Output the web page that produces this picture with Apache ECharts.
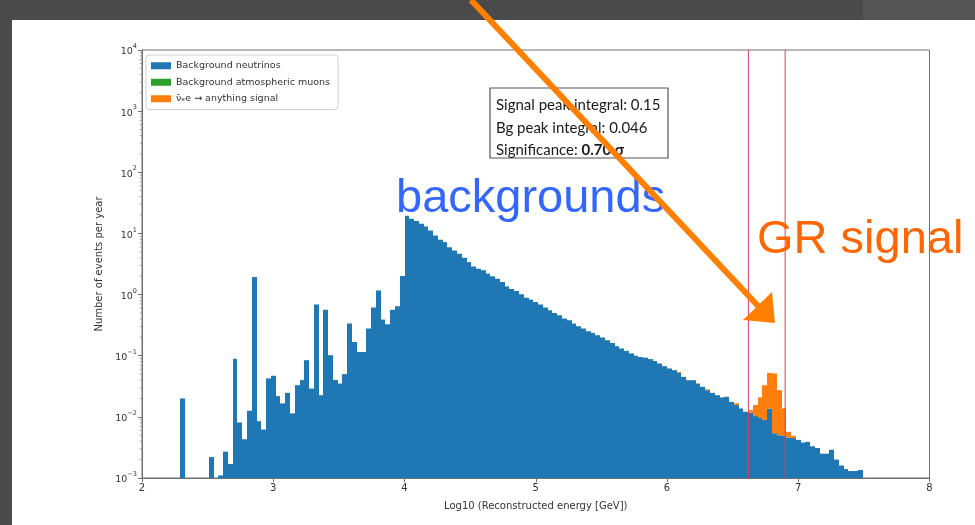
<!DOCTYPE html>
<html>
<head>
<meta charset="utf-8">
<title>Reconstructed energy spectrum</title>
<script src="https://cdn.jsdelivr.net/npm/echarts@6/dist/echarts.min.js"></script>
<style>
  html, body { margin: 0; padding: 0; background: #4a4a4a; }
  #chart { width: 975px; height: 525px; }
</style>
</head>
<body>
<div id="chart"></div>
<script>
// Histogram binning in log10(E / GeV)
const X_MIN = 2, X_MAX = 8, BIN_COUNT = 165;
const Y_MIN = 1e-3, Y_MAX = 1e4;

// Events per year in each bin, starting at X_MIN (bins past the last entry are empty)
const neutrinoCounts = [
  0, 0, 0, 0, 0, 0, 0, 0, 0.020, 0,
  0, 0, 0, 0, 0.0022, 0, 0.0011, 0.0027, 0.0017, 0.089,
  0.0081, 0.0043, 0.0126, 1.94, 0.0085, 0.0062, 0.0425, 0.047, 0.0218, 0.0166,
  0.0247, 0.0114, 0.033, 0.040, 0.0845, 0.029, 0.69, 0.0226, 0.567, 0.102,
  0.040, 0.035, 0.050, 0.336, 0.168, 0.115, 0.115, 0.278, 0.612, 1.17,
  0.39, 0.327, 0.567, 0.643, 2.01, 19.5, 17.4, 15.9, 14.4, 13.0,
  11.2, 9.27, 7.89, 7.21, 5.97, 5.28, 4.66, 4.01, 3.40, 2.89,
  2.65, 2.49, 2.20, 1.99, 1.82, 1.60, 1.36, 1.23, 1.14, 1.01,
  0.891, 0.828, 0.755, 0.686, 0.612, 0.553, 0.500, 0.458, 0.405, 0.380,
  0.336, 0.303, 0.278, 0.251, 0.236, 0.216, 0.198, 0.179, 0.162, 0.143,
  0.131, 0.120, 0.109, 0.100, 0.095, 0.093, 0.088, 0.082, 0.0746, 0.0674,
  0.0618, 0.058, 0.0524, 0.0451, 0.0398, 0.0398, 0.0351, 0.031, 0.0273, 0.0247,
  0.0226, 0.0208, 0.0213, 0.0176, 0.0156, 0.0137, 0.0121, 0.0117, 0.0103, 0.0098,
  0.0089, 0.0137, 0.0054, 0.0050, 0.0049, 0.0046, 0.0045, 0.0042, 0.0038, 0.0039,
  0.0033, 0.0031, 0.0025, 0.0025, 0.0029, 0.0020, 0.0016, 0.0014, 0.0013, 0.0013,
  0.00135
];
// Atmospheric muons: nothing above the plotted floor
const muonCounts = [];
// Signal, stacked on top of the backgrounds (same bin indexing)
const signalCounts = [
  0, 0, 0, 0, 0, 0, 0, 0, 0, 0, 0, 0, 0, 0, 0, 0, 0, 0, 0, 0,
  0, 0, 0, 0, 0, 0, 0, 0, 0, 0, 0, 0, 0, 0, 0, 0, 0, 0, 0, 0,
  0, 0, 0, 0, 0, 0, 0, 0, 0, 0, 0, 0, 0, 0, 0, 0, 0, 0, 0, 0,
  0, 0, 0, 0, 0, 0, 0, 0, 0, 0, 0, 0, 0, 0, 0, 0, 0, 0, 0, 0,
  0, 0, 0, 0, 0, 0, 0, 0, 0, 0, 0, 0, 0, 0, 0, 0, 0, 0, 0, 0,
  0, 0, 0, 0, 0, 0, 0, 0, 0, 0, 0, 0, 0.002, 0, 0, 0, 0, 0, 0.001, 0,
  0, 0, 0, 0, 0.001, 0, 0, 0.0012, 0.0053, 0.011,
  0.024, 0.0387, 0.0458, 0.0223, 0.0089, 0.0011, 0.0004
];
// Signal peak window edges, log10(E)
const peakWindow = [6.62, 6.90];

const legendNames = [
  'Background neutrinos',
  'Background atmospheric muons',
  '\u03bd\u0304\u2091e \u2192 anything signal'
];
const colors = { nu: '#1f77b4', mu: '#2ca02c', sig: '#ff7f0e' };

const binWidth = (X_MAX - X_MIN) / BIN_COUNT;
function binLo(i) { return X_MIN + i * binWidth; }

const nuData = [];
neutrinoCounts.forEach((v, i) => {
  if (v > 0) nuData.push([binLo(i), binLo(i + 1), Y_MIN, v]);
});
const muData = [];
muonCounts.forEach((v, i) => {
  if (v > 0) muData.push([binLo(i), binLo(i + 1), neutrinoCounts[i] || Y_MIN, (neutrinoCounts[i] || 0) + v]);
});
const sigData = [];
signalCounts.forEach((v, i) => {
  if (v > 0) {
    const under = (neutrinoCounts[i] || 0) + (muonCounts[i] || 0);
    sigData.push([binLo(i), binLo(i + 1), Math.max(under, Y_MIN), under + v]);
  }
});

// bars snapped to whole pixels horizontally so neighbouring bins meet without seams
function barRenderer(color) {
  return function (params, api) {
    const a = api.coord([api.value(0), api.value(3)]);
    const b = api.coord([api.value(1), api.value(2)]);
    const x0 = Math.round(a[0]), x1 = Math.round(b[0]);
    return {
      type: 'rect',
      shape: { x: x0, y: a[1], width: x1 - x0, height: b[1] - a[1] },
      style: { fill: color }
    };
  };
}

// log-axis minor tick positions (2..9 x 10^n)
const minorTicks = [];
for (let d = -3; d < 4; d++) {
  for (let m = 2; m <= 9; m++) minorTicks.push([X_MIN, m * Math.pow(10, d)]);
}

const chart = echarts.init(document.getElementById('chart'), null, { renderer: 'canvas' });

const option = {
  backgroundColor: '#4a4a4a',
  animation: false,
  textStyle: { fontFamily: 'DejaVu Sans' },
  grid: {
    left: 142, right: 45.5, top: 50, bottom: 47,
    show: true, backgroundColor: '#ffffff', borderColor: '#707070', borderWidth: 1
  },
  legend: {
    data: legendNames,
    orient: 'vertical',
    left: 146, top: 55,
    padding: [5, 8, 5, 5],
    itemWidth: 20, itemHeight: 7, itemGap: 5,
    icon: 'rect',
    backgroundColor: 'rgba(255,255,255,0.85)',
    borderColor: '#d0d0d0', borderWidth: 1, borderRadius: 3,
    textStyle: { fontFamily: 'DejaVu Sans', fontSize: 9.5, color: '#333', lineHeight: 11.5 }
  },
  xAxis: {
    type: 'value', min: X_MIN, max: X_MAX, interval: 1,
    name: 'Log10 (Reconstructed energy [GeV])',
    nameLocation: 'middle', nameGap: 23,
    nameTextStyle: { fontFamily: 'DejaVu Sans', fontSize: 10, color: '#333' },
    axisLine: { show: true, onZero: false, lineStyle: { color: '#707070', width: 1 } },
    axisTick: { show: true, inside: false, length: 4, lineStyle: { color: '#707070' } },
    axisLabel: { fontFamily: 'DejaVu Sans', fontSize: 10, color: '#333', margin: 5 },
    splitLine: { show: false }
  },
  yAxis: {
    type: 'log', logBase: 10, min: Y_MIN, max: Y_MAX,
    name: 'Number of events per year',
    nameLocation: 'middle', nameGap: 33,
    nameTextStyle: { fontFamily: 'DejaVu Sans', fontSize: 10, color: '#333' },
    axisLine: { show: true, lineStyle: { color: '#707070', width: 1 } },
    axisTick: { show: true, inside: false, length: 4, lineStyle: { color: '#707070' } },
    axisLabel: {
      margin: 5,
      formatter: function (v) {
        const e = Math.round(Math.log10(v));
        return '{b|10}{s|' + (e < 0 ? '\u2212' + (-e) : e) + '}';
      },
      rich: {
        b: { fontFamily: 'DejaVu Sans', fontSize: 9.5, color: '#333', lineHeight: 14, verticalAlign: 'bottom' },
        s: { fontFamily: 'DejaVu Sans', fontSize: 6.5, color: '#333', lineHeight: 14, verticalAlign: 'top' }
      }
    },
    splitLine: { show: false }
  },
  series: [
    {
      name: legendNames[0], type: 'custom', clip: true,
      itemStyle: { color: colors.nu },
      renderItem: barRenderer(colors.nu),
      encode: { x: [0, 1], y: [2, 3] },
      data: nuData, z: 2
    },
    {
      name: legendNames[1], type: 'custom', clip: true,
      itemStyle: { color: colors.mu },
      renderItem: barRenderer(colors.mu),
      encode: { x: [0, 1], y: [2, 3] },
      data: muData, z: 3
    },
    {
      name: legendNames[2], type: 'custom', clip: true,
      itemStyle: { color: colors.sig },
      renderItem: barRenderer(colors.sig),
      encode: { x: [0, 1], y: [2, 3] },
      data: sigData, z: 3
    },
    {
      // peak integration window
      name: 'window', type: 'custom', silent: true, z: 4,
      renderItem: function (params, api) {
        const top = api.coord([api.value(0), Y_MAX]);
        const bot = api.coord([api.value(0), Y_MIN]);
        return {
          type: 'line',
          shape: { x1: top[0], y1: top[1], x2: bot[0], y2: bot[1] },
          style: { stroke: '#d9405a', lineWidth: 1 }
        };
      },
      encode: { x: 0 },
      data: peakWindow.map(v => [v])
    },
    {
      name: 'minor', type: 'custom', silent: true, z: 5, clip: false,
      renderItem: function (params, api) {
        const p = api.coord([api.value(0), api.value(1)]);
        return {
          type: 'line',
          shape: { x1: p[0] - 2.2, y1: p[1], x2: p[0], y2: p[1] },
          style: { stroke: '#909090', lineWidth: 0.8 }
        };
      },
      encode: { x: 0, y: 1 },
      data: minorTicks
    }
  ],
  graphic: [
    // slide panel
    { type: 'rect', z: -100, silent: true, shape: { x: 863, y: 0, width: 112, height: 20 }, style: { fill: '#555555' } },
    { type: 'rect', z: -100, silent: true, shape: { x: 12, y: 20, width: 963, height: 505 }, style: { fill: '#ffffff' } },
    // summary box
    {
      type: 'group', z: 50, children: [
        { type: 'rect', shape: { x: 490, y: 88, width: 178, height: 70 }, style: { fill: '#ffffff', stroke: '#555555', lineWidth: 1.2 } },
        { type: 'text', style: { x: 496, y: 105, text: 'Signal peak integral: 0.15', font: '15px Lato', fill: '#1a1a1a', verticalAlign: 'middle' } },
        { type: 'text', style: { x: 496, y: 128, text: 'Bg peak integral: 0.046', font: '15px Lato', fill: '#1a1a1a', verticalAlign: 'middle' } },
        {
          type: 'text', style: {
            x: 496, y: 150, text: 'Significance: {b|0.70 \u03c3}', font: '15px Lato', fill: '#1a1a1a', verticalAlign: 'middle',
            rich: { b: { fontFamily: 'Lato', fontSize: 15, fontWeight: 'bold', fill: '#1a1a1a' } }
          }
        }
      ]
    },
    { type: 'text', z: 60, style: { x: 396, y: 199, text: 'backgrounds', font: '47px "Liberation Sans"', fill: '#3366ff', verticalAlign: 'middle' } },
    { type: 'text', z: 60, style: { x: 757, y: 240, text: 'GR signal', font: '47px "Liberation Sans"', fill: '#ff6600', verticalAlign: 'middle' } },
    // arrow pointing at the signal peak
    { type: 'line', z: 70, shape: { x1: 471, y1: 0, x2: 760, y2: 308 }, style: { stroke: '#ff7f00', lineWidth: 6 } },
    { type: 'polygon', z: 70, shape: { points: [[775, 323], [743, 320], [772, 292]] }, style: { fill: '#ff7f00' } }
  ]
};

chart.setOption(option);
</script>
</body>
</html>
